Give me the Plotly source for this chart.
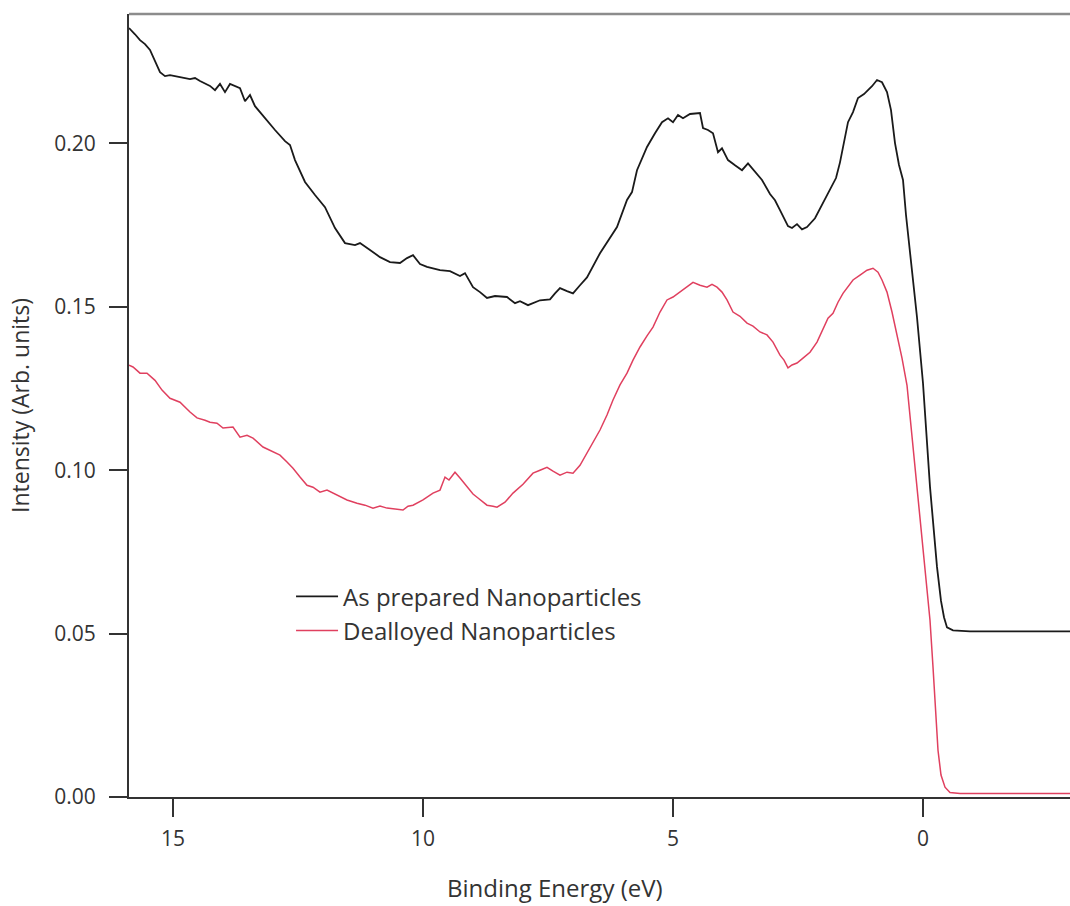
import plotly.graph_objects as go

# Binding energy (eV) and intensity, As prepared Nanoparticles
energy_prepared = [15.88, 15.86, 15.76, 15.66, 15.56, 15.46, 15.36, 15.26, 15.16, 15.06, 14.86, 14.66, 14.56,
                   14.46, 14.26, 14.16, 14.06, 13.96, 13.86, 13.76, 13.66, 13.56, 13.46, 13.36, 13.16, 12.96,
                   12.76, 12.66, 12.56, 12.36, 12.16, 11.96, 11.76, 11.56, 11.36, 11.26, 11.06, 10.86, 10.66,
                   10.46, 10.32, 10.20, 10.06, 9.92, 9.66, 9.46, 9.26, 9.16, 9.00, 8.86, 8.72, 8.56, 8.32,
                   8.16, 8.06, 7.90, 7.66, 7.46, 7.36, 7.26, 7.12, 7.00, 6.86, 6.72, 6.46, 6.26, 6.12, 5.92,
                   5.82, 5.72, 5.52, 5.36, 5.22, 5.10, 5.00, 4.90, 4.80, 4.66, 4.46, 4.40, 4.30, 4.20, 4.10,
                   4.02, 3.90, 3.76, 3.62, 3.50, 3.36, 3.22, 3.06, 2.96, 2.86, 2.70, 2.62, 2.52, 2.42, 2.32,
                   2.16, 2.02, 1.86, 1.74, 1.66, 1.58, 1.50, 1.40, 1.30, 1.18, 1.10, 1.02, 0.92, 0.82, 0.72,
                   0.64, 0.56, 0.48, 0.40, 0.34, 0.26, 0.12, 0.00, -0.14, -0.28, -0.36, -0.42, -0.48, -0.60,
                   -0.94, -1.54, -2.94]
intensity_prepared = [0.2353, 0.2350, 0.2334, 0.2316, 0.2304, 0.2286, 0.2249, 0.2218, 0.2206, 0.2209, 0.2203,
                      0.2197, 0.2200, 0.2191, 0.2176, 0.2163, 0.2182, 0.2157, 0.2182, 0.2176, 0.2169, 0.2129,
                      0.2148, 0.2114, 0.2077, 0.2041, 0.2007, 0.1995, 0.1949, 0.1882, 0.1842, 0.1805, 0.1741,
                      0.1695, 0.1689, 0.1695, 0.1674, 0.1652, 0.1637, 0.1634, 0.1649, 0.1658, 0.1631, 0.1622,
                      0.1612, 0.1609, 0.1594, 0.1603, 0.1560, 0.1545, 0.1527, 0.1533, 0.1530, 0.1511, 0.1517,
                      0.1505, 0.1520, 0.1523, 0.1541, 0.1557, 0.1548, 0.1541, 0.1566, 0.1590, 0.1664, 0.1710,
                      0.1744, 0.1827, 0.1851, 0.1918, 0.1989, 0.2031, 0.2065, 0.2077, 0.2065, 0.2087, 0.2077,
                      0.2090, 0.2093, 0.2047, 0.2041, 0.2031, 0.1973, 0.1985, 0.1949, 0.1933, 0.1918, 0.1939,
                      0.1912, 0.1888, 0.1845, 0.1826, 0.1796, 0.1747, 0.1741, 0.1753, 0.1737, 0.1744, 0.1771,
                      0.1811, 0.1857, 0.1894, 0.1942, 0.2000, 0.2065, 0.2096, 0.2139, 0.2151, 0.2163, 0.2175,
                      0.2194, 0.2187, 0.2157, 0.2102, 0.2001, 0.1934, 0.1888, 0.1781, 0.1667, 0.1468, 0.1266,
                      0.0949, 0.0704, 0.0600, 0.0550, 0.0519, 0.0510, 0.0507, 0.0507, 0.0507]

# Dealloyed Nanoparticles
energy_dealloyed = [15.88, 15.80, 15.66, 15.52, 15.36, 15.22, 15.06, 14.86, 14.66, 14.52, 14.36, 14.26, 14.12,
                    14.00, 13.80, 13.66, 13.52, 13.40, 13.20, 13.00, 12.86, 12.72, 12.60, 12.46, 12.32, 12.20,
                    12.06, 11.92, 11.80, 11.66, 11.52, 11.32, 11.16, 11.00, 10.86, 10.72, 10.56, 10.40, 10.30,
                    10.20, 10.00, 9.80, 9.66, 9.56, 9.48, 9.36, 9.26, 9.12, 9.00, 8.90, 8.72, 8.60, 8.52, 8.36,
                    8.20, 8.00, 7.80, 7.66, 7.52, 7.40, 7.26, 7.12, 7.00, 6.86, 6.72, 6.60, 6.46, 6.32, 6.20,
                    6.06, 5.92, 5.80, 5.66, 5.52, 5.40, 5.26, 5.12, 5.00, 4.86, 4.72, 4.60, 4.46, 4.32, 4.22,
                    4.12, 4.02, 3.92, 3.80, 3.66, 3.52, 3.40, 3.26, 3.12, 3.00, 2.86, 2.78, 2.70, 2.62, 2.52,
                    2.40, 2.26, 2.12, 2.00, 1.90, 1.80, 1.70, 1.60, 1.50, 1.40, 1.26, 1.12, 1.00, 0.90, 0.82,
                    0.72, 0.62, 0.52, 0.42, 0.32, 0.24, 0.16, 0.06, -0.04, -0.14, -0.20, -0.26, -0.30, -0.36,
                    -0.44, -0.54, -0.74, -1.54, -2.94]
intensity_dealloyed = [0.1321, 0.1316, 0.1297, 0.1297, 0.1275, 0.1245, 0.1220, 0.1208, 0.1178, 0.1160, 0.1153,
                       0.1147, 0.1144, 0.1129, 0.1132, 0.1101, 0.1107, 0.1098, 0.1071, 0.1055, 0.1046, 0.1025,
                       0.1006, 0.0979, 0.0954, 0.0948, 0.0933, 0.0939, 0.0930, 0.0918, 0.0909, 0.0899, 0.0893,
                       0.0884, 0.0890, 0.0884, 0.0881, 0.0878, 0.0890, 0.0893, 0.0909, 0.0930, 0.0939, 0.0979,
                       0.0970, 0.0994, 0.0976, 0.0948, 0.0927, 0.0915, 0.0893, 0.0890, 0.0887, 0.0902, 0.0930,
                       0.0957, 0.0991, 0.1000, 0.1009, 0.0997, 0.0985, 0.0994, 0.0991, 0.1015, 0.1052, 0.1086,
                       0.1123, 0.1169, 0.1215, 0.1261, 0.1297, 0.1337, 0.1377, 0.1411, 0.1438, 0.1484, 0.1521,
                       0.1530, 0.1545, 0.1560, 0.1575, 0.1566, 0.1560, 0.1569, 0.1560, 0.1545, 0.1521, 0.1484,
                       0.1471, 0.1450, 0.1441, 0.1423, 0.1414, 0.1392, 0.1352, 0.1337, 0.1313, 0.1322, 0.1328,
                       0.1343, 0.1361, 0.1392, 0.1429, 0.1465, 0.1480, 0.1514, 0.1541, 0.1560, 0.1582, 0.1597,
                       0.1612, 0.1618, 0.1606, 0.1582, 0.1545, 0.1484, 0.1413, 0.1343, 0.1260, 0.1138, 0.1000,
                       0.0847, 0.0694, 0.0541, 0.0398, 0.0236, 0.0143, 0.0067, 0.0030, 0.0014, 0.0011, 0.0011,
                       0.0011]

x_ticks = [15, 10, 5, 0]
y_ticks = [0.00, 0.05, 0.10, 0.15, 0.20]
y_tick_labels = ["0.00", "0.05", "0.10", "0.15", "0.20"]

FONT = "Open Sans"
TXT = "#333333"

fig = go.Figure()
fig.add_trace(go.Scatter(x=energy_prepared, y=intensity_prepared, mode="lines",
                         name="As prepared Nanoparticles",
                         line=dict(color="#1a1a1a", width=1.8)))
fig.add_trace(go.Scatter(x=energy_dealloyed, y=intensity_dealloyed, mode="lines",
                         name="Dealloyed Nanoparticles",
                         line=dict(color="#e0405f", width=1.5)))

fig.update_layout(
    width=1070, height=906,
    margin=dict(l=129, r=0, t=14, b=109),
    paper_bgcolor="white", plot_bgcolor="white",
    font=dict(family=FONT, color=TXT, size=22),
    showlegend=True,
    legend=dict(x=0.1722, y=0.2845, xanchor="left", yanchor="top",
                font=dict(family=FONT, size=24, color=TXT),
                bgcolor="rgba(0,0,0,0)", borderwidth=0, itemwidth=42,
                tracegroupgap=0),
    xaxis=dict(range=[15.88, -2.94], tickmode="array", tickvals=x_ticks,
               ticks="outside", ticklen=18, tickwidth=1.5, tickcolor="#333",
               ticklabelstandoff=4,
               showline=True, linecolor="#333", linewidth=2,
               showgrid=False, zeroline=False,
               tickfont=dict(family=FONT, size=21, color=TXT)),
    yaxis=dict(range=[0, 0.2396], tickmode="array", tickvals=y_ticks, ticktext=y_tick_labels,
               ticks="outside", ticklen=18, tickwidth=1.5, tickcolor="#333",
               ticklabelstandoff=9,
               showline=True, linecolor="#333", linewidth=2,
               showgrid=False, zeroline=False,
               tickfont=dict(family=FONT, size=21, color=TXT),
               title=dict(text="Intensity (Arb. units)", standoff=18,
                          font=dict(family=FONT, size=23, color=TXT))),
)

# x-axis title (placed as in the reference, left of the plot centre)
fig.add_annotation(text="Binding Energy (eV)", xref="paper", yref="paper",
                   x=0.4527, y=-0.1162, xanchor="center", yanchor="middle",
                   showarrow=False, font=dict(family=FONT, size=24, color=TXT))

fig.add_shape(type="line", xref="paper", yref="paper", x0=0, x1=1, y0=1, y1=1,
              line=dict(color="#8c8c8c", width=2.5))

fig.write_html("out.html", config={"displayModeBar": False},
               post_script="document.body.style.margin='0px';document.body.style.overflow='hidden';")
